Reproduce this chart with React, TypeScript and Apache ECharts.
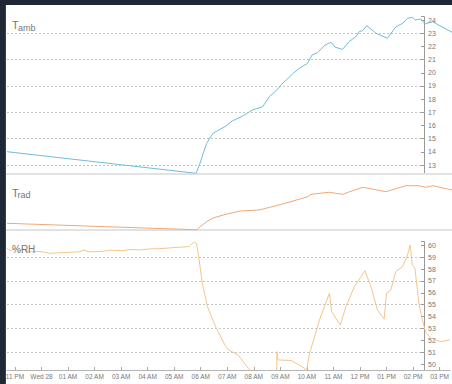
import React, { useEffect, useRef } from "react";
import * as echarts from "echarts";

// ---- Data (hours relative to midnight of Wed 28; negative = Tuesday evening) ----
const X_MIN = -1.3;
const X_MAX = 15.39;

const xTickHours = [-1, 0, 1, 2, 3, 4, 5, 6, 7, 8, 9, 10, 11, 12, 13, 14, 15];
const xTickLabels = [
  "11 PM", "Wed 28", "01 AM", "02 AM", "03 AM", "04 AM", "05 AM", "06 AM",
  "07 AM", "08 AM", "09 AM", "10 AM", "11 AM", "12 PM", "01 PM", "02 PM", "03 PM",
];

// T_amb (°C)
const TAMB_MIN = 12.37;
const TAMB_MAX = 24.26;
const tambTicks = [13, 14, 15, 16, 17, 18, 19, 20, 21, 22, 23, 24];
const tambGrid = [13, 15, 17, 19, 21, 23];
const tambHours = [
  -1.3, 5.79, 5.94, 6.06, 6.19, 6.42, 6.91, 7.16, 7.54, 7.91, 8.29, 8.54, 8.85, 8.97,
  9.41, 9.66, 9.97, 10.14, 10.35, 10.63, 10.85, 11.01, 11.29, 11.53, 11.79, 11.91,
  12.04, 12.19, 12.54, 12.97, 13.29, 13.54, 13.72, 13.91, 14.01, 14.22, 14.38, 14.66, 15.39,
];
const tambValues = [
  14.01, 12.37, 13.13, 13.89, 14.65, 15.4, 15.96, 16.36, 16.72, 17.18, 17.43, 18.19, 18.75, 19.07,
  19.91, 20.34, 20.72, 21.35, 21.53, 22.11, 22.32, 21.94, 21.78, 22.37, 22.75, 23.13,
  23.2, 23.58, 23.0, 22.62, 23.5, 23.76, 24.14, 24.21, 24.01, 24.09, 23.71, 23.88, 23.08,
];

// T_rad (°C, no axis shown)
const TRAD_MIN = 12;
const TRAD_MAX = 25;
const tradHours = [
  -1.3, 5.82, 5.94, 6.19, 6.42, 6.91, 7.44, 8.15, 8.9, 9.99, 10.1, 10.77, 11.3, 11.52,
  12.05, 12.91, 13.66, 14.15, 14.41, 14.67, 15.39,
];
const tradValues = [
  13.61, 12.05, 12.79, 14.0, 14.89, 15.78, 16.57, 16.81, 18.02, 20.02, 20.59, 21.08, 20.59, 21.15,
  22.28, 21.22, 22.66, 22.66, 22.28, 22.66, 21.63,
];

// %RH
const RH_MIN = 49.5;
const RH_MAX = 60.31;
const rhTicks = [50, 51, 52, 53, 54, 55, 56, 57, 58, 59, 60];
const rhGrid = [51, 53, 55, 57, 59];
const rhHours = [
  -1.3, -1.15, -1.0, -0.85, -0.7, -0.4, -0.1, 0.31, 0.7, 1.1, 1.44, 1.6, 1.8, 2.3, 2.6, 3.06, 3.3, 3.7,
  4.06, 4.4, 4.8, 5.19, 5.56, 5.75, 5.84, 5.94, 6.06, 6.25, 6.56, 6.91, 7.04, 7.41, 7.79,
  8.1, 8.86, 8.87, 8.91, 9.41, 9.91, 9.97, 10.1, 10.29, 10.47, 10.66, 10.85, 10.93, 11.26,
  11.47, 11.79, 12.04, 12.19, 12.41, 12.66, 12.91, 13.0, 13.16, 13.35, 13.6, 13.78, 13.89,
  13.97, 14.07, 14.22, 14.35, 14.47, 14.66, 15.04, 15.39,
];
const rhValues = [
  59.75, 59.55, 59.8, 59.5, 59.7, 59.45, 59.5, 59.33, 59.38, 59.42, 59.47, 59.62, 59.45, 59.5, 59.6, 59.55, 59.65, 59.62,
  59.7, 59.72, 59.78, 59.84, 59.9, 60.3, 60.17, 58.77, 56.8, 54.84, 53.15, 51.6, 51.2, 50.77, 49.65,
  49.0, 49.0, 51.05, 50.35, 50.3, 49.65, 49.3, 50.9, 52.3, 53.7, 54.84, 55.97, 54.42, 53.3,
  54.84, 56.52, 57.37, 57.87, 56.52, 54.56, 53.78, 55.97, 56.24, 57.79, 58.21, 59.1, 60.03,
  58.35, 58.07, 55.12, 53.72, 52.73, 52.18, 51.89, 52.03,
];

const zip = (xs: number[], ys: number[]) => xs.map((x, i) => [x, ys[i]]);

const FONT = "Liberation Sans";
const TEXT = "#777";
const AXIS = "#999";
const GRIDLINE = "#c4c4c4";
const SEP = "#e2e2e2";
const NONE = "rgba(0,0,0,0)";

export default function App() {
  const ref = useRef<HTMLDivElement>(null);

  useEffect(() => {
    if (!ref.current) return;
    const chart = echarts.init(ref.current, null, { renderer: "svg" });

    const hiddenX = (gridIndex: number) => ({
      gridIndex, type: "value", min: X_MIN, max: X_MAX, show: false,
    });
    const sepX = (gridIndex: number) => ({
      gridIndex, type: "value", min: X_MIN, max: X_MAX, position: "bottom",
      axisLine: { show: true, onZero: false, lineStyle: { color: SEP, width: 2 } },
      axisTick: { show: false }, axisLabel: { show: false }, splitLine: { show: false },
    });
    const valueAxis = (gridIndex: number, min: number, max: number, ticks: number[]) => ({
      gridIndex, type: "value", min, max, position: "right",
      axisLine: { show: true, onZero: false, lineStyle: { color: AXIS, width: 1 } },
      axisTick: { show: true, inside: true, length: 3, lineStyle: { color: AXIS }, customValues: [...ticks, max] },
      axisLabel: { show: true, customValues: ticks, color: TEXT, fontSize: 7, margin: 4, fontFamily: FONT },
      splitLine: { show: false },
    });
    const gridAxis = (gridIndex: number, min: number, max: number, lines: number[]) => ({
      gridIndex, type: "value", min, max, position: "right",
      axisLine: { show: false, onZero: false, lineStyle: { color: NONE, width: 0 } },
      axisTick: { show: false, customValues: lines, lineStyle: { color: NONE } },
      axisLabel: { show: false },
      splitLine: { show: true, lineStyle: { color: GRIDLINE, type: [2, 2], width: 1 } },
    });

    const option: any = {
      animation: false,
      backgroundColor: "#ffffff",
      textStyle: { fontFamily: FONT },
      grid: [
        { left: 7, right: 0, top: 16.7, height: 156.6 },
        { left: 7, width: 417, top: 16.7, height: 156.6 },
        { left: 7, right: 0, top: 176, height: 54 },
        { left: 7, right: 0, top: 241.7, height: 128.3 },
        { left: 7, width: 417, top: 241.7, height: 128.3 },
        { left: 7, width: 417, top: 16.7, height: 156.6 },
        { left: 7, width: 417, top: 241.7, height: 128.3 },
      ],
      xAxis: [
        sepX(0),
        hiddenX(1),
        sepX(2),
        {
          gridIndex: 3, type: "value", min: X_MIN, max: X_MAX, position: "bottom",
          axisLine: { show: true, onZero: false, lineStyle: { color: "#b5b5b5", width: 1 } },
          axisTick: { show: true, inside: true, length: 3, lineStyle: { color: "#aaa" }, customValues: xTickHours },
          axisLabel: {
            show: true, customValues: xTickHours, color: TEXT, fontSize: 6.5, margin: 3, fontFamily: FONT,
            formatter: (v: number) => xTickLabels[xTickHours.indexOf(Math.round(v))] ?? "",
          },
          splitLine: { show: false },
        },
        hiddenX(4),
        hiddenX(5),
        hiddenX(6),
      ],
      yAxis: [
        { gridIndex: 0, type: "value", min: TAMB_MIN, max: TAMB_MAX, show: false },
        valueAxis(1, TAMB_MIN, TAMB_MAX, tambTicks),
        gridAxis(5, TAMB_MIN, TAMB_MAX, tambGrid),
        { gridIndex: 2, type: "value", min: TRAD_MIN, max: TRAD_MAX, show: false },
        { gridIndex: 3, type: "value", min: RH_MIN, max: RH_MAX, show: false },
        valueAxis(4, RH_MIN, RH_MAX, rhTicks),
        gridAxis(6, RH_MIN, RH_MAX, rhGrid),
      ],
      series: [
        {
          name: "Tamb", type: "line", xAxisIndex: 0, yAxisIndex: 0, data: zip(tambHours, tambValues),
          showSymbol: false, lineStyle: { color: "#6cbedc", width: 1 }, itemStyle: { color: "#6cbedc" }, z: 3,
        },
        {
          name: "Trad", type: "line", xAxisIndex: 2, yAxisIndex: 3, data: zip(tradHours, tradValues),
          showSymbol: false, lineStyle: { color: "#f0a878", width: 1 }, itemStyle: { color: "#f0a878" }, z: 3,
        },
        {
          name: "%RH", type: "line", xAxisIndex: 3, yAxisIndex: 4, data: zip(rhHours, rhValues),
          showSymbol: false, lineStyle: { color: "#f5c48a", width: 1 }, itemStyle: { color: "#f5c48a" }, z: 3,
        },
      ],
      graphic: [
        { type: "rect", z: 10, shape: { x: 0, y: 0, width: 452, height: 5 }, style: { fill: "#1e2935" } },
        { type: "rect", z: 10, shape: { x: 0, y: 0, width: 6, height: 384 }, style: { fill: "#1e2935" } },
        { type: "rect", z: 10, shape: { x: 5, y: 5, width: 1, height: 379 }, style: { fill: "#34414e" } },
        { type: "text", z: 5, x: 12, y: 19, style: { text: "T", fontSize: 11, fill: TEXT, fontFamily: FONT, verticalAlign: "top" } },
        { type: "text", z: 5, x: 18, y: 23, style: { text: "amb", fontSize: 9, fill: TEXT, fontFamily: FONT, verticalAlign: "top" } },
        { type: "text", z: 5, x: 12, y: 187.5, style: { text: "T", fontSize: 11, fill: TEXT, fontFamily: FONT, verticalAlign: "top" } },
        { type: "text", z: 5, x: 17.5, y: 190.5, style: { text: "rad", fontSize: 9, fill: TEXT, fontFamily: FONT, verticalAlign: "top" } },
        { type: "text", z: 5, x: 12, y: 244, style: { text: "%RH", fontSize: 10, fill: TEXT, fontFamily: FONT, verticalAlign: "top" } },
      ],
    };

    chart.setOption(option);
    return () => chart.dispose();
  }, []);

  return (
    <div
      ref={ref}
      style={{ position: "fixed", left: 0, top: 0, width: 452, height: 384, background: "#fff" }}
    />
  );
}
